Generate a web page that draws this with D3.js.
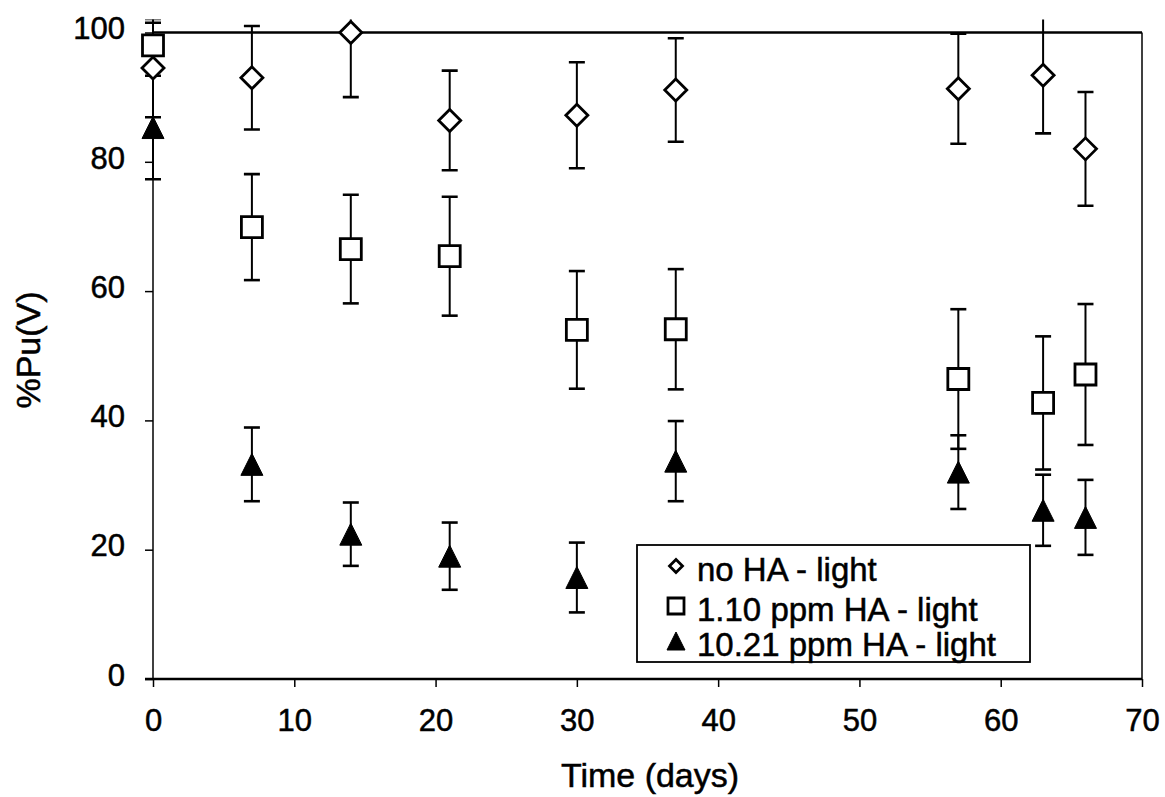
<!DOCTYPE html>
<html lang="en">
<head>
    <meta charset="UTF-8">
    <title>%Pu(V) vs time</title>
    <script src="https://cdn.jsdelivr.net/npm/d3@7"></script>
    <style>
        body {
            margin: 0;
            background: #fff;
        }

        text {
            font-family: "Liberation Sans", Arial, sans-serif;
            fill: #000;
            stroke: #000;
            stroke-width: 0.5px;
        }

        .tick text {
            font-size: 31px;
        }
    </style>
</head>
<body>
<script>
    //数据
    const days = [0, 7, 14, 21, 30, 37, 57, 63, 66];
    const noHA = [94.5, 93, 100, 86.4, 87.2, 91.1, 91.3, 93.4, 82];
    const noHAErr = [7.6, 8, 10, 7.7, 8.2, 8, 8.5, 9, 8.8];
    const ha110 = [98, 69.9, 66.5, 65.4, 54, 54.1, 46.4, 42.7, 47.1];
    const ha110Err = [3.5, 8.2, 8.4, 9.2, 9.1, 9.3, 10.8, 10.3, 10.9];
    const ha1021 = [85.3, 33.2, 22.4, 19, 15.7, 33.7, 32, 26.1, 25];
    const ha1021Err = [8, 5.7, 4.9, 5.2, 5.4, 6.2, 5.7, 5.5, 5.8];

    const xTicks = [0, 10, 20, 30, 40, 50, 60, 70];
    const yTicks = [0, 20, 40, 60, 80, 100];
    const legendNames = ['no HA - light', '1.10 ppm HA - light', '10.21 ppm HA - light'];

    const width = 1165;
    const height = 797;

    const x = d3.scaleLinear().domain([0, 70]).range([153, 1142]);
    const y = d3.scaleLinear().domain([0, 100]).range([679, 32.5]);

    const svg = d3.select("body").append("svg").attr("width", width).attr("height", height);

    //坐标轴
    const xAxis = svg.append("g")
        .attr("transform", "translate(0," + y(0) + ")")
        .call(d3.axisBottom(x).tickValues(xTicks).tickSize(8).tickPadding(22));
    const yAxis = svg.append("g")
        .attr("transform", "translate(" + x(0) + ",0)")
        .call(d3.axisLeft(y).tickValues(yTicks).tickSize(8).tickPadding(20));
    [xAxis, yAxis].forEach(g => {
        g.select(".domain").remove();
        g.selectAll(".tick line").attr("stroke", "#000").attr("stroke-width", 1.5);
    });
    yAxis.selectAll(".tick text").attr("dy", "0.2em");

    //边框
    const frame = svg.append("g").attr("stroke", "#000").attr("fill", "none");
    frame.append("line").attr("x1", x(0)).attr("x2", x(70)).attr("y1", y(100)).attr("y2", y(100)).attr("stroke-width", 2.5);
    frame.append("line").attr("x1", x(0) - 8).attr("x2", x(70)).attr("y1", y(0)).attr("y2", y(0)).attr("stroke-width", 2.5);
    frame.append("line").attr("x1", x(0)).attr("x2", x(0)).attr("y1", y(100)).attr("y2", y(0)).attr("stroke-width", 1.5);
    frame.append("line").attr("x1", x(70)).attr("x2", x(70)).attr("y1", y(100)).attr("y2", y(0)).attr("stroke-width", 1.5);

    //轴标题
    svg.append("text")
        .attr("x", 650).attr("y", 787)
        .attr("text-anchor", "middle")
        .style("font-size", "34px")
        .text("Time (days)");
    svg.append("text")
        .attr("transform", "translate(40,350) rotate(-90)")
        .attr("text-anchor", "middle")
        .style("font-size", "34px")
        .text("%Pu(V)");

    //误差线裁剪
    svg.append("clipPath").attr("id", "clip")
        .append("rect")
        .attr("x", 0).attr("y", y(102))
        .attr("width", width).attr("height", y(0) - y(102));

    const series = [
        {name: legendNames[0], vals: noHA, err: noHAErr, shape: 'diamond'},
        {name: legendNames[1], vals: ha110, err: ha110Err, shape: 'square'},
        {name: legendNames[2], vals: ha1021, err: ha1021Err, shape: 'triangle'}
    ];

    function markerPath(shape, s) {
        const h = s / 2;
        if (shape === 'diamond') {
            return 'M0,' + (-h) + 'L' + h + ',0L0,' + h + 'L' + (-h) + ',0Z';
        } else if (shape === 'square') {
            return 'M' + (-h) + ',' + (-h) + 'H' + h + 'V' + h + 'H' + (-h) + 'Z';
        }
        return 'M0,' + (-h) + 'L' + h + ',' + h + 'H' + (-h) + 'Z';
    }

    function drawMarker(g, shape, s) {
        g.append("path")
            .attr("d", markerPath(shape, s))
            .attr("fill", shape === 'triangle' ? '#000' : '#fff')
            .attr("stroke", "#000")
            .attr("stroke-width", shape === 'triangle' ? 1 : 2.8)
            .attr("stroke-linejoin", "miter");
    }

    //误差线
    const errG = svg.append("g").attr("clip-path", "url(#clip)").attr("stroke", "#000").attr("stroke-width", 2);
    series.forEach(s => {
        days.forEach((d, i) => {
            const cx = x(d);
            const top = y(s.vals[i] + s.err[i]);
            const bot = y(s.vals[i] - s.err[i]);
            errG.append("line").attr("x1", cx).attr("x2", cx).attr("y1", top).attr("y2", bot);
            errG.append("line").attr("x1", cx - 8).attr("x2", cx + 8).attr("y1", top).attr("y2", top).attr("stroke-width", 2.6);
            errG.append("line").attr("x1", cx - 8).attr("x2", cx + 8).attr("y1", bot).attr("y2", bot).attr("stroke-width", 2.6);
        });
    });

    //数据点
    series.forEach(s => {
        svg.append("g").selectAll("g")
            .data(days)
            .enter()
            .append("g")
            .attr("transform", (d, i) => 'translate(' + [x(d), y(s.vals[i])] + ')')
            .each(function () {
                drawMarker(d3.select(this), s.shape, s.shape === 'square' ? 21 : 22);
            });
    });

    //图例
    const legend = svg.append("g");
    legend.append("rect")
        .attr("x", 637).attr("y", 545)
        .attr("width", 393).attr("height", 117)
        .attr("fill", "#fff").attr("stroke", "#000").attr("stroke-width", 1.8);
    const legendY = [566, 606, 641];
    const legendSize = [13, 16, 18];
    series.forEach((s, i) => {
        const row = legend.append("g").attr("transform", 'translate(676,' + legendY[i] + ')');
        drawMarker(row, s.shape, legendSize[i]);
        row.append("text")
            .attr("x", 21).attr("y", 3)
            .attr("dy", "0.35em")
            .style("font-size", "33px")
            .text(s.name);
    });
</script>
</body>
</html>
